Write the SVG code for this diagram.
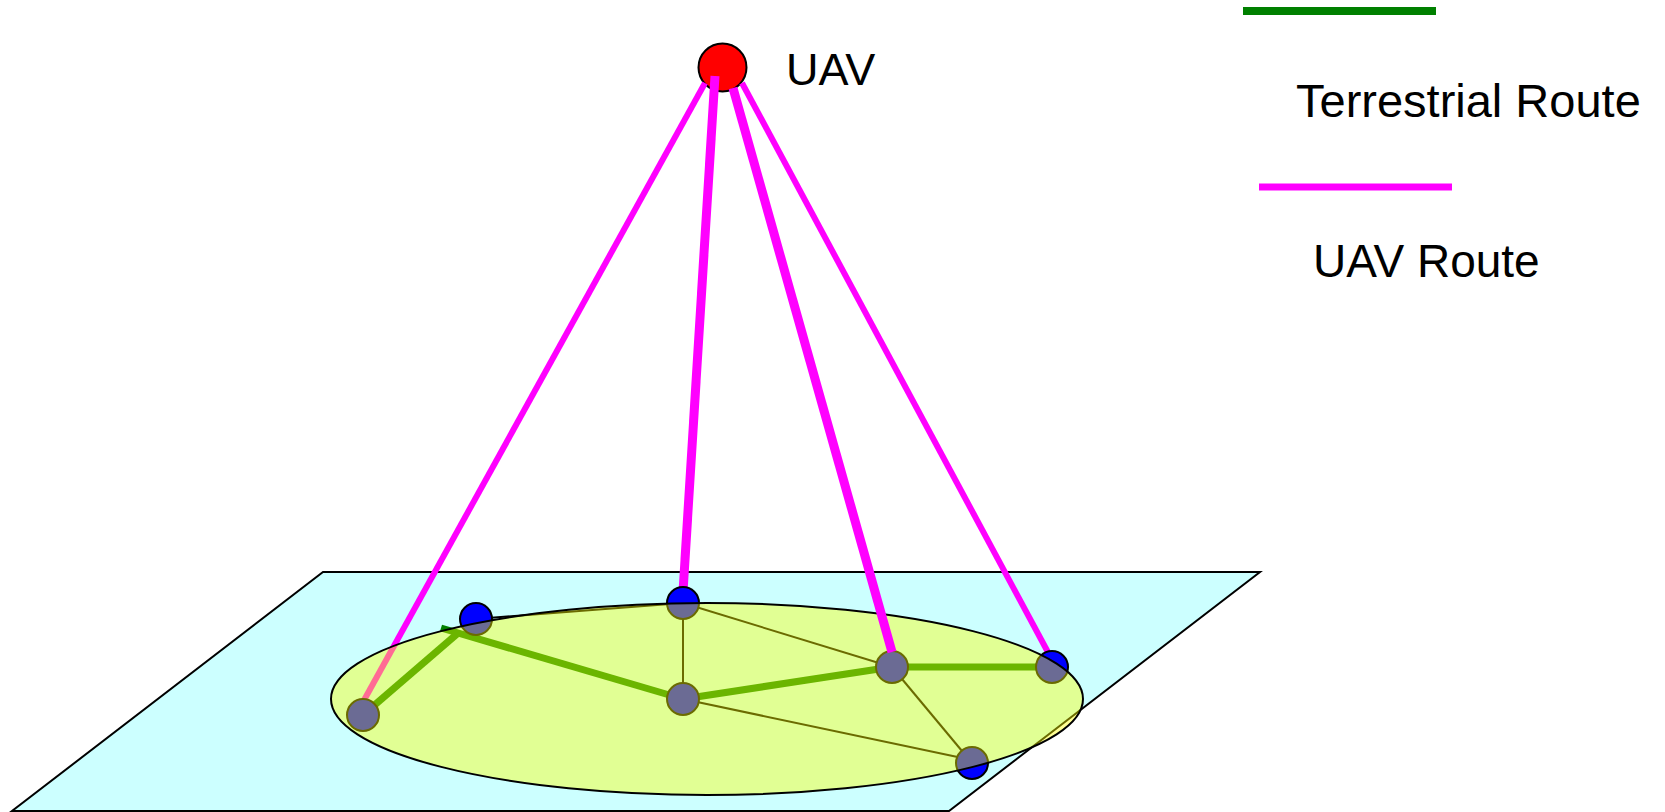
<svg xmlns="http://www.w3.org/2000/svg" width="1665" height="812" viewBox="0 0 1665 812">
  <style>
    .txt { font-family: "Liberation Sans", Arial, sans-serif; fill: #000000; }
    .thin { stroke: #000000; stroke-width: 2; fill: none; }
    .terr { stroke: #008000; stroke-width: 7; fill: none; }
    .uav { stroke: #ff00ff; fill: none; }
    .gnode { fill: #0000ff; stroke: #000000; stroke-width: 2; }
  </style>
  <rect x="0" y="0" width="1665" height="812" fill="#ffffff"/>

  <g id="ground-plane">
    <polygon points="323,572 1260,572 949,811 12,811" fill="#ccffff" stroke="#000000" stroke-width="2" stroke-linejoin="miter"/>
  </g>

  <g id="uav-node">
    <circle cx="722.5" cy="67.5" r="24" fill="#ff0000" stroke="#000000" stroke-width="2"/>
    <text class="txt" x="786" y="85" font-size="45">UAV</text>
  </g>

  <g id="connectors">
    <line class="thin" x1="476" y1="619" x2="683" y2="603"/>
    <line class="thin" x1="683" y1="603" x2="683" y2="699"/>
    <line class="thin" x1="683" y1="603" x2="892" y2="667"/>
    <line class="thin" x1="892" y1="667" x2="972" y2="763"/>
    <line class="thin" x1="683" y1="699" x2="986" y2="763"/>
    <line class="terr" x1="363" y1="715" x2="457" y2="634"/>
    <line class="terr" x1="441" y1="628" x2="683" y2="699"/>
    <line class="terr" x1="683" y1="699" x2="892" y2="667"/>
    <line class="terr" x1="892" y1="667" x2="1052" y2="667"/>
    <line class="uav" stroke-width="6" x1="705" y1="83" x2="363" y2="702"/>
    <line class="uav" stroke-width="9" x1="715" y1="76" x2="683" y2="592"/>
    <line class="uav" stroke-width="6" x1="742" y1="83" x2="1050" y2="656"/>
  </g>

  <g id="node-1"><circle class="gnode" cx="363" cy="715" r="16"/></g>
  <g id="node-2"><circle class="gnode" cx="476" cy="619" r="16"/></g>
  <g id="node-3"><circle class="gnode" cx="683" cy="603" r="16"/></g>
  <g id="node-4"><circle class="gnode" cx="683" cy="699" r="16"/></g>
  <g id="node-5"><circle class="gnode" cx="892" cy="667" r="16"/></g>
  <g id="node-6"><circle class="gnode" cx="1052" cy="667" r="16"/></g>
  <g id="node-7"><circle class="gnode" cx="972" cy="763" r="16"/></g>

  <g id="cluster">
    <ellipse cx="707" cy="699" rx="376" ry="96" fill="#ffff00" fill-opacity="0.42" stroke="#000000" stroke-width="2"/>
  </g>

  <g id="connectors-top">
    <line class="uav" stroke-width="9" x1="733" y1="88" x2="892" y2="652"/>
  </g>

  <g id="legend">
    <line x1="1243" y1="11" x2="1436" y2="11" stroke="#008000" stroke-width="8"/>
    <text class="txt" x="1296" y="117" font-size="47">Terrestrial Route</text>
    <line x1="1259" y1="187" x2="1452" y2="187" stroke="#ff00ff" stroke-width="7"/>
    <text class="txt" x="1313" y="277" font-size="46">UAV Route</text>
  </g>
</svg>
